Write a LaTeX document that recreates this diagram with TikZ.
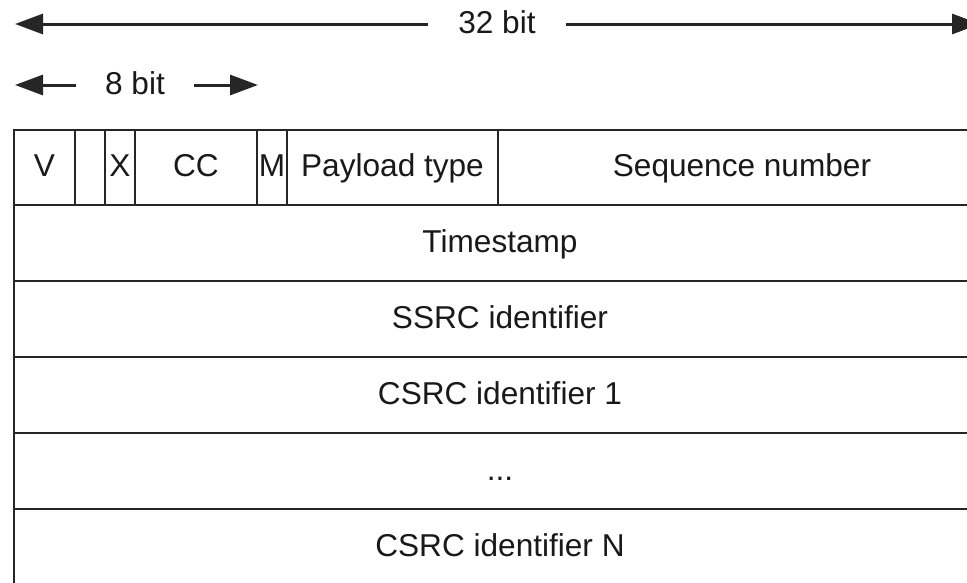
\documentclass[tikz,border=0pt]{standalone}
\usepackage{fontspec}
\setmainfont{Liberation Sans}
\usetikzlibrary{arrows.meta}
\begin{document}
\begin{tikzpicture}[x=1pt,y=-1pt,
  every node/.style={font=\fontsize{31.6}{38}\selectfont, text=black!90},
  cell/.style={draw=black!85, line width=2.2pt, rectangle, inner sep=0pt, outer sep=0pt,
    minimum height=75pt, text height=22.7pt, text depth=4pt},
  row/.style={cell, minimum width=972pt, minimum height=76pt},
  span/.style={line width=3pt, draw=black!85, -{Triangle[length=28pt,width=20pt]}},
  spanlabel/.style={inner ysep=0pt, inner xsep=30pt, text height=22.7pt, text depth=4pt}]
\useasboundingbox (0,0) rectangle (967,582);
\clip (0,0) rectangle (967,582);
\fill[white] (0,0) rectangle (967,582);
% 32 bit span
\node[spanlabel] (t32) at (497,24) {32 bit};
\coordinate (l32) at (15,24);
\coordinate (r32) at (980,24);
\draw[span] (t32) -- (l32);
\draw[span] (t32) -- (r32);
% 8 bit span
\node[spanlabel, inner xsep=29pt] (t8) at (135,85) {8 bit};
\coordinate (l8) at (15,85);
\coordinate (r8) at (258,85);
\draw[span] (t8) -- (l8);
\draw[span] (t8) -- (r8);
% header row
\node[cell, minimum width=61pt] (v) at (44.5,167.5) {V};
\node[cell, minimum width=30pt] (p) at (90,167.5) {};
\node[cell, minimum width=30pt] (x) at (120,167.5) {X};
\node[cell, minimum width=122pt] (cc) at (196,167.5) {CC};
\node[cell, minimum width=30pt] (m) at (272,167.5) {M};
\node[cell, minimum width=211pt] (pt) at (392.5,167.5) {Payload type};
\node[cell, minimum width=488pt] (seq) at (742,167.5) {Sequence number};
% full-width rows
\node[row] (ts) at (500,243) {Timestamp};
\node[row] (ssrc) at (500,319) {SSRC identifier};
\node[row] (csrc1) at (500,395) {CSRC identifier 1};
\node[row] (dots) at (500,471) {...};
\node[row] (csrcn) at (500,547) {CSRC identifier N};
\end{tikzpicture}
\end{document}
